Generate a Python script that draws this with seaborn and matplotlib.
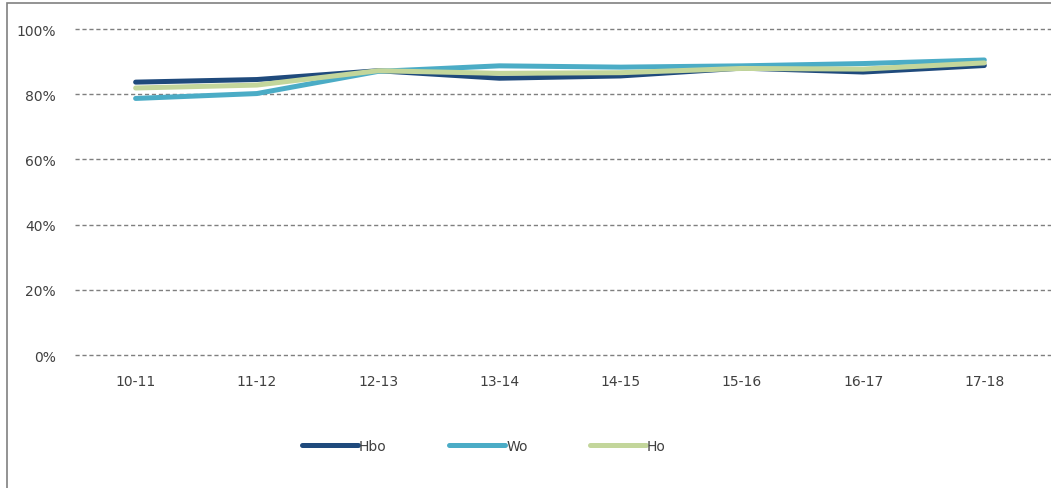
import numpy as np
import pandas as pd
import matplotlib
matplotlib.use('Agg')
import matplotlib.pyplot as plt
import seaborn as sns
from matplotlib.patches import Rectangle
from matplotlib.ticker import PercentFormatter

# ── Data ──────────────────────────────────────────────────────────────────────
years = ['10-11', '11-12', '12-13', '13-14', '14-15', '15-16', '16-17', '17-18']
hbo   = [83.7, 84.5, 87.2, 84.9, 85.6, 88.0, 86.8, 88.8]
wo    = [78.7, 80.2, 87.0, 88.7, 88.3, 88.7, 89.4, 90.5]
ho    = [81.9, 82.8, 87.2, 86.4, 86.6, 87.9, 87.7, 89.6]

series_names = ['Hbo', 'Wo', 'Ho']
colors       = ['#1F4A7C', '#4BACC6', '#C3D69B']

df = pd.DataFrame({
    'year':   years * 3,
    'value':  hbo + wo + ho,
    'series': np.repeat(series_names, len(years)),
})

# ── Plot ──────────────────────────────────────────────────────────────────────
sns.set_style('white')
plt.rcParams['font.family'] = ['DejaVu Sans']

fig = plt.figure(figsize=(10.51, 4.89), dpi=100)
ax = fig.add_axes([75 / 1051, 1 - 356 / 489, (1051 - 75) / 1051, (356 - 30) / 489])

sns.lineplot(data=df, x='year', y='value', hue='series', palette=colors,
             hue_order=series_names, linewidth=3.6, sort=False, ax=ax,
             legend=False, solid_capstyle='round')

ax.set_xlim(-0.5, 7.55)
ax.set_ylim(0, 100)
ax.set_yticks(range(0, 101, 20))
ax.yaxis.set_major_formatter(PercentFormatter(decimals=0))
ax.grid(axis='y', color='#7f7f7f', linestyle=(0, (3, 2)), linewidth=1)
ax.set_axisbelow(True)
for gl in ax.yaxis.get_gridlines():
    gl.set_clip_on(False)
for s in ax.spines.values():
    s.set_visible(False)
ax.set_xlabel('')
ax.set_ylabel('')
ax.tick_params(axis='both', length=0, labelsize=10, labelcolor='#404040')
ax.tick_params(axis='x', pad=14)
ax.tick_params(axis='y', pad=14)

# legend
handles = [plt.Line2D([], [], color=c, linewidth=3.6, solid_capstyle='round')
           for c in colors]
fig.legend(handles, series_names, loc='center', bbox_to_anchor=(484 / 1051, 1 - 447 / 489),
           ncol=3, frameon=False, fontsize=10, handlelength=4.0,
           handletextpad=0.1, columnspacing=4.5, labelcolor='#404040')

# outer frame
fig.patches.append(Rectangle((7 / 1051, -0.01), 1.0, 1 - 4 / 489 + 0.01,
                             transform=fig.transFigure, fill=False,
                             edgecolor='#808080', linewidth=1.2))

plt.savefig('out.png', dpi=100)
plt.close()
